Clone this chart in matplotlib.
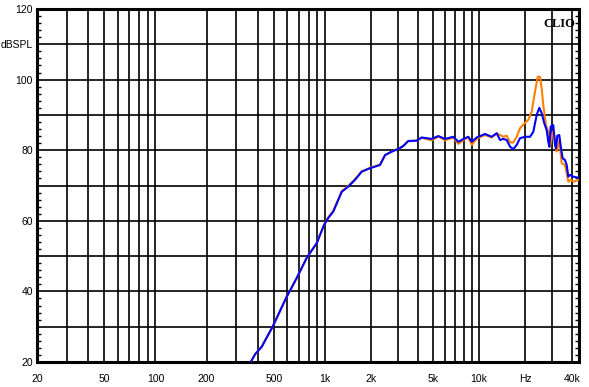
import numpy as np
import matplotlib
matplotlib.use("Agg")
import matplotlib.pyplot as plt

# measured response, blue trace (Hz, dB SPL)
blue_freq = [365, 387, 423, 491, 589, 681, 780, 894, 987, 1050, 1132, 1284,
             1417, 1566, 1730, 1959, 2275, 2453, 2712, 3037, 3223, 3473, 3939,
             4244, 4929, 5445, 6015, 6812, 7339, 8115, 8531, 8973, 9664, 10940,
             12090, 13030, 13690, 14380, 15130, 15900, 16700, 17570, 18460,
             19890, 21440, 22520, 23700, 24640, 25530, 26550, 27510, 28180,
             28610, 29200, 30370, 31150, 31620, 32240, 33210, 34080, 34950,
             36170, 37110, 38010, 38990, 40960, 44140]
blue_spl = [20.0, 22.2, 24.3, 30.0, 38.1, 43.8, 49.5, 53.7, 58.8, 60.8, 62.6,
            68.2, 69.7, 71.6, 73.9, 74.9, 75.8, 78.6, 79.6, 80.5, 81.2, 82.6,
            82.7, 83.6, 83.2, 84.0, 83.2, 83.8, 82.4, 83.4, 83.8, 82.4, 83.6,
            84.6, 83.8, 84.8, 82.9, 83.2, 82.9, 81.0, 80.3, 81.5, 83.4, 83.8,
            83.8, 85.2, 90.0, 92.0, 90.5, 87.6, 85.7, 82.4, 81.0, 86.7, 87.1,
            81.5, 80.5, 84.1, 84.3, 80.5, 77.7, 77.2, 75.8, 72.5, 73.0, 72.5,
            72.2]

# orange trace
orange_freq = [365, 387, 423, 491, 589, 681, 780, 894, 987, 1050, 1132, 1284,
               1417, 1566, 1730, 1959, 2275, 2453, 2712, 3037, 3223, 3473, 3939,
               4244, 4929, 5445, 6015, 6812, 7339, 8115, 8531, 8973, 9664,
               10940, 12090, 13030, 13690, 14380, 15130, 15900, 16700, 17570,
               18460, 19400, 20900, 21990, 23100, 24060, 24890, 25530, 26150,
               27230, 28180, 28900, 30100, 30830, 31950, 33210, 34430, 36170,
               38010, 39400, 41390, 44140]
orange_spl = [20.0, 22.2, 24.3, 30.0, 38.1, 43.8, 49.5, 53.7, 58.9, 61.0, 62.9,
              68.4, 69.9, 71.8, 74.0, 75.0, 75.9, 78.6, 79.6, 80.5, 81.2, 82.6,
              82.7, 83.5, 82.8, 83.9, 82.8, 83.6, 81.8, 83.2, 83.6, 81.5, 83.3,
              84.3, 83.6, 84.8, 84.3, 83.8, 84.1, 82.2, 82.2, 83.8, 86.2, 87.3,
              88.6, 90.9, 96.6, 100.8, 100.8, 97.5, 92.8, 87.1, 85.2, 81.0,
              85.2, 84.3, 79.6, 82.9, 76.3, 75.8, 71.1, 71.6, 71.1, 71.6]

x_ticks = [20, 30, 40, 50, 60, 70, 80, 90, 100, 200, 300, 400, 500, 600, 700,
           800, 900, 1000, 2000, 3000, 4000, 5000, 6000, 7000, 8000, 9000,
           10000, 20000, 30000, 40000]
x_labels = {20: "20", 50: "50", 100: "100", 200: "200", 500: "500",
            1000: "1k", 2000: "2k", 5000: "5k", 10000: "10k", 20000: "Hz",
            40000: "40k"}
y_ticks = [20, 30, 40, 50, 60, 70, 80, 90, 100, 110, 120]
y_labels = ["20", "", "40", "", "60", "", "80", "", "100", "dBSPL", "120"]

# the CLIO grid is log but with a slightly different decade width below/above 1k
L20 = np.log10(20)


def fwd(f):
    lf = np.log10(np.clip(f, 1e-9, None))
    return np.where(lf < 3, (lf - L20) / (3 - L20) * 288, 288 + (lf - 3) * 154)


def inv(p):
    p = np.asarray(p, dtype=float)
    return np.where(p < 288, 10 ** (L20 + p / 288 * (3 - L20)),
                    10 ** (3 + (p - 288) / 154))


plt.rcParams['font.family'] = ['Liberation Sans', 'DejaVu Sans']

fig = plt.figure(figsize=(5.89, 3.87), dpi=100)
ax = fig.add_axes([37 / 589, 25 / 387, 542 / 589, 353 / 387])

ax.plot(orange_freq, orange_spl, color='#ff8000', lw=1.5, zorder=3)
ax.plot(blue_freq, blue_spl, color='#0000ff', lw=1.5, zorder=4)

ax.set_xscale('function', functions=(fwd, inv))
ax.set_xlim(20, 10 ** (3 + (542 - 288) / 154))
ax.set_ylim(20, 120)

ax.set_xticks(x_ticks)
ax.set_xticklabels([x_labels.get(t, "") for t in x_ticks])
ax.xaxis.set_minor_locator(matplotlib.ticker.NullLocator())
ax.set_yticks(y_ticks)
ax.set_yticklabels(y_labels)
ax.set_yticks(np.arange(20, 121, 2), minor=True)

ax.tick_params(axis='x', which='major', length=0, pad=9, labelsize=7.5)
ax.tick_params(axis='y', which='major', length=0, pad=3, labelsize=7.5)
ax.tick_params(axis='y', which='minor', direction='in', length=3, width=1,
               left=True, right=True)

ax.grid(True, which='major', color='black', lw=1.2)
for s in ax.spines.values():
    s.set_linewidth(2.2)

ax.text(0.993, 0.975, "CLIO", transform=ax.transAxes, ha='right', va='top',
        fontsize=9, fontweight='bold', family='Liberation Serif', zorder=5)

fig.savefig("out.png", dpi=100, facecolor='white')
